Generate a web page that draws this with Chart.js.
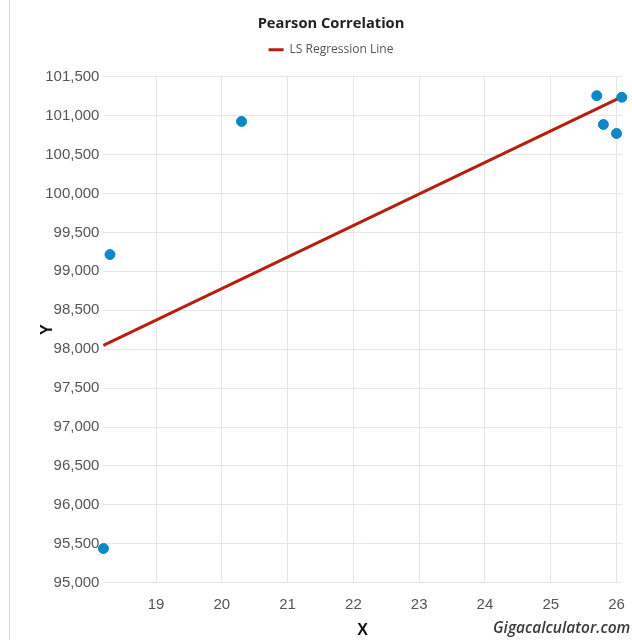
<!DOCTYPE html>
<html>
<head>
<meta charset="utf-8">
<script src="https://cdn.jsdelivr.net/npm/chart.js@4"></script>
<style>
  html, body { margin: 0; padding: 0; background: #fff; overflow: hidden; }
  #wrap { position: absolute; left: 9px; top: 0; width: 640px; height: 640px; border-left: 1px solid #c9dbea; }
  #box { position: absolute; left: -6px; top: 0; width: 634px; height: 640px; }
  #mark { position: absolute; left: 483px; top: 616px; font-family: "Open Sans", sans-serif; font-style: italic; font-weight: 600; font-size: 15.5px; color: #3a3a3a; white-space: nowrap; }
</style>
</head>
<body>
<div id="wrap">
  <div id="box"><canvas id="c"></canvas></div>
  <div id="mark">Gigacalculator.com</div>
</div>
<script>
const pointX = [18.2, 18.3, 20.3, 25.7, 25.8, 26.0, 26.08];
const pointY = [95440, 99215, 100925, 101255, 100885, 100770, 101235];
const lineX = [18.2, 26.08];
const lineY = [98050, 101240];
const xTicks = [19, 20, 21, 22, 23, 24, 25, 26];
const yTicks = [95000, 95500, 96000, 96500, 97000, 97500, 98000, 98500, 99000, 99500, 100000, 100500, 101000, 101500];

const tickFont = { family: "'Liberation Sans', Arial, sans-serif", size: 15 };
const pts = pointX.map((x, i) => ({ x: x, y: pointY[i] }));
const line = lineX.map((x, i) => ({ x: x, y: lineY[i] }));

const legendSpace = {
  id: 'legendSpace',
  beforeInit(chart) {
    const orig = chart.legend.fit;
    chart.legend.fit = function () { orig.bind(chart.legend)(); this.height += 11; };
  }
};

new Chart(document.getElementById('c'), {
  type: 'scatter',
  plugins: [legendSpace],
  data: {
    datasets: [
      { label: 'Data', data: pts, backgroundColor: '#0a88c8', borderColor: '#0a88c8', pointRadius: 5, pointHoverRadius: 5, clip: false },
      { label: 'LS Regression Line', data: line, showLine: true, borderColor: '#b51f0e', backgroundColor: '#b51f0e', borderWidth: 3, pointRadius: 0, fill: false, clip: false }
    ]
  },
  options: {
    responsive: true,
    maintainAspectRatio: false,
    animation: false,
    layout: { padding: { left: 34, right: 14, top: 0, bottom: 0 } },
    plugins: {
      title: { display: true, text: 'Pearson Correlation', color: '#222', font: { family: "'Open Sans', sans-serif", size: 14.7, weight: 'bold' }, padding: { top: 15, bottom: 3 } },
      legend: {
        display: true,
        labels: {
          generateLabels: (chart) => Chart.defaults.plugins.legend.labels.generateLabels(chart)
            .filter(i => i.datasetIndex === 1)
            .map(i => Object.assign(i, { lineWidth: 0 })),
          boxWidth: 15, boxHeight: 3,
          color: '#555', font: { family: "'Open Sans', sans-serif", size: 12 },
          padding: 8
        }
      },
      tooltip: { enabled: false }
    },
    scales: {
      x: {
        type: 'linear',
        bounds: 'data',
        min: pointX[0],
        max: pointX[pointX.length - 1],
        afterBuildTicks: (s) => { s.ticks = xTicks.map(v => ({ value: v })); },
        grid: { color: '#e6e6e6', drawTicks: false },
        border: { display: false },
        ticks: { color: '#555', font: tickFont, padding: 13, maxRotation: 0, autoSkip: false },
        title: { display: true, text: 'X', color: '#111', font: { family: "'Liberation Sans', Arial, sans-serif", size: 16, weight: 'bold' }, padding: { top: -6, bottom: 0 } }
      },
      y: {
        min: 95000,
        max: 101500,
        afterBuildTicks: (s) => { s.ticks = yTicks.map(v => ({ value: v })); },
        grid: { color: '#e6e6e6', drawTicks: false },
        border: { display: false },
        ticks: { color: '#555', font: tickFont, padding: 4, autoSkip: false },
        title: { display: true, text: 'Y', color: '#111', font: { family: "'Liberation Sans', Arial, sans-serif", size: 16, weight: 'bold' }, padding: { top: 0, bottom: -16 } }
      }
    }
  }
});
</script>
</body>
</html>
